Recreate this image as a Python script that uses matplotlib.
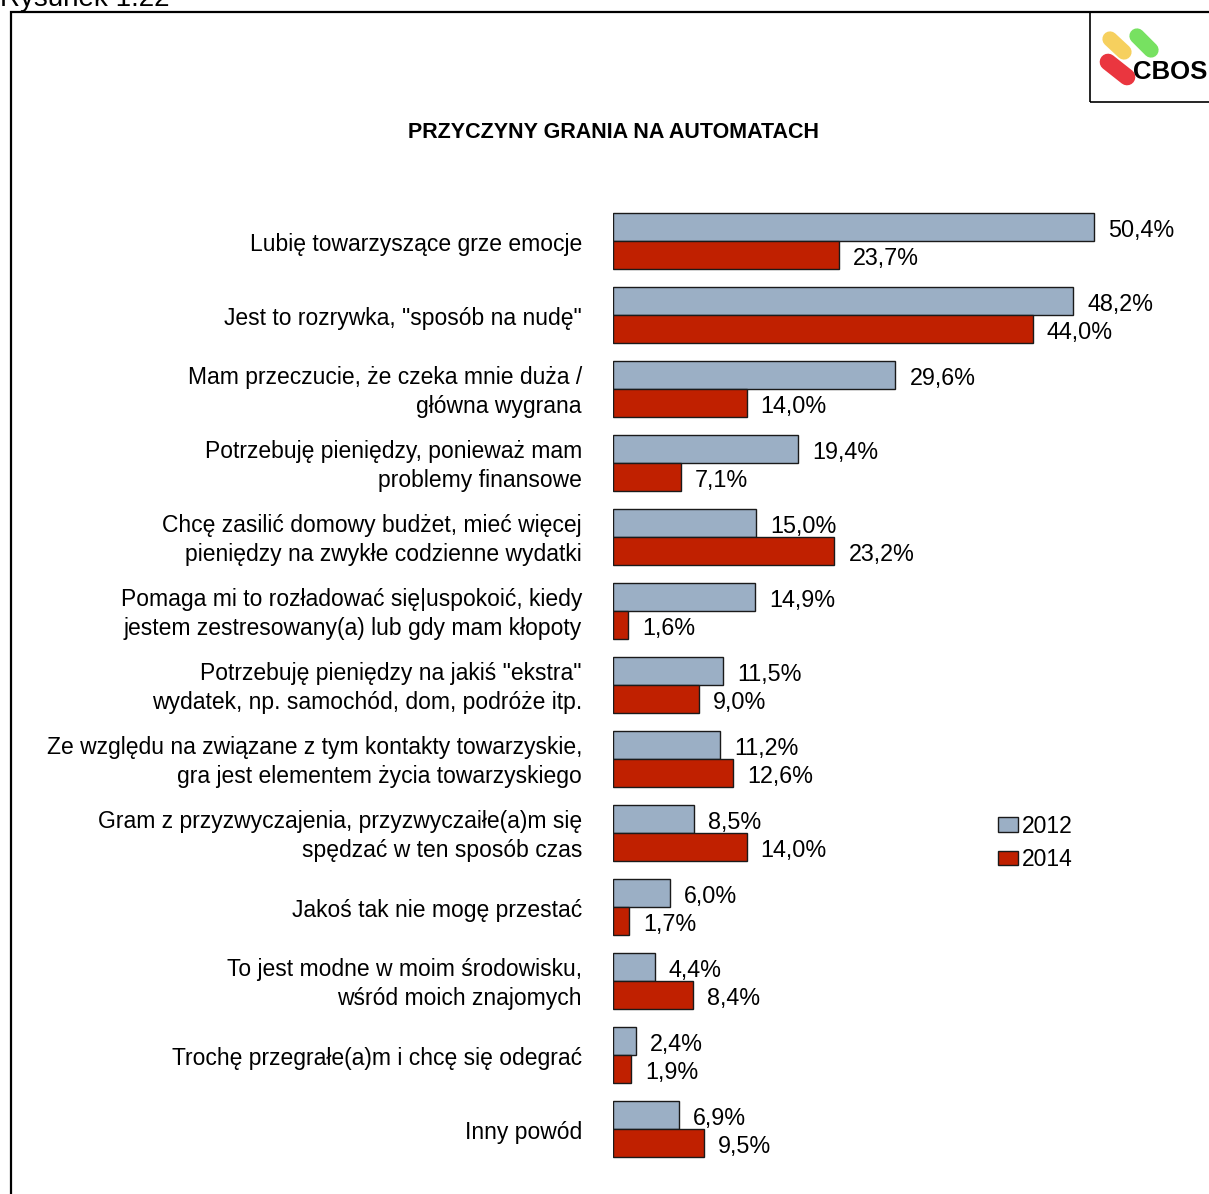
import matplotlib.pyplot as plt
from matplotlib.patches import Rectangle

plt.rcParams['font.family'] = ['Liberation Sans', 'DejaVu Sans']

categories = [
    'Lubię towarzyszące grze emocje',
    'Jest to rozrywka, "sposób na nudę"',
    'Mam przeczucie, że czeka mnie duża /\ngłówna wygrana',
    'Potrzebuję pieniędzy, ponieważ mam\nproblemy finansowe',
    'Chcę zasilić domowy budżet, mieć więcej\npieniędzy na zwykłe codzienne wydatki',
    'Pomaga mi to rozładować się|uspokoić, kiedy\njestem zestresowany(a) lub gdy mam kłopoty',
    'Potrzebuję pieniędzy na jakiś "ekstra"\nwydatek, np. samochód, dom, podróże itp.',
    'Ze względu na związane z tym kontakty towarzyskie,\ngra jest elementem życia towarzyskiego',
    'Gram z przyzwyczajenia, przyzwyczaiłe(a)m się\nspędzać w ten sposób czas',
    'Jakoś tak nie mogę przestać',
    'To jest modne w moim środowisku,\nwśród moich znajomych',
    'Trochę przegrałe(a)m i chcę się odegrać',
    'Inny powód',
]
vals_2012 = [50.4, 48.2, 29.6, 19.4, 15.0, 14.9, 11.5, 11.2, 8.5, 6.0, 4.4, 2.4, 6.9]
vals_2014 = [23.7, 44.0, 14.0, 7.1, 23.2, 1.6, 9.0, 12.6, 14.0, 1.7, 8.4, 1.9, 9.5]
series_names = ['2012', '2014']

W, H = 1209, 1194
fig = plt.figure(figsize=(W / 100, H / 100), dpi=100)

# outer frame and logo box
fig.add_artist(Rectangle((11 / W, -0.01), 1.2, 1 - 12 / H + 0.01, transform=fig.transFigure,
                         fill=False, lw=1.6, ec='black'))
fig.add_artist(Rectangle((1090 / W, 1 - 102 / H), 0.2, 90 / H, transform=fig.transFigure,
                         fill=False, lw=1.2, ec='black'))
fig.text(0, 1 - 6 / H, 'Rysunek 1.22', fontsize=20, va='baseline', ha='left')

# CBOS logo
lax = fig.add_axes([1095 / W, 1 - 100 / H, 114 / W, 86 / H])
lax.set_xlim(0, 114)
lax.set_ylim(86, 0)
lax.axis('off')
lax.plot([15, 29], [25, 38], color='#f5c842', lw=11, solid_capstyle='round', alpha=0.85)
lax.plot([42, 56], [22, 36], color='#5fdc45', lw=11, solid_capstyle='round', alpha=0.85)
lax.plot([13, 32], [48, 63], color='#e8202a', lw=12, solid_capstyle='round', alpha=0.9)
lax.text(38, 58, 'CBOS', fontsize=18.5, fontweight='bold', va='center', ha='left')

fig.text(614 / W, 1 - 133 / H, 'PRZYCZYNY GRANIA NA AUTOMATACH', fontsize=15.5,
         fontweight='bold', ha='center', va='center')

# bar axes
ppu = (1094 - 613) / 50.4
xmax = 60
top_px, row_px, first_c = 176, 74, 241
ax = fig.add_axes([613 / W, 0, xmax * ppu / W, (H - top_px) / H])
ax.set_xlim(0, xmax)
ax.set_ylim((H - first_c) / row_px, (top_px - first_c) / row_px)
ax.axis('off')

h = 28 / row_px
ys = list(range(len(categories)))
b1 = ax.barh([y - h / 2 for y in ys], vals_2012, height=h, color='#9bafc5',
             edgecolor='#1a1a1a', lw=1, label=series_names[0])
b2 = ax.barh([y + h / 2 for y in ys], vals_2014, height=h, color='#c02000',
             edgecolor='#1a1a1a', lw=1, label=series_names[1])

off = 14 / ppu
dy = 3 / row_px
for y, a, b, cat in zip(ys, vals_2012, vals_2014, categories):
    ax.text(a + off, y - h / 2 + dy, f'{a:.1f}%'.replace('.', ','), fontsize=16.8,
            va='center', ha='left')
    ax.text(b + off, y + h / 2 + dy, f'{b:.1f}%'.replace('.', ','), fontsize=16.8,
            va='center', ha='left')
    ax.text(-31 / ppu, y + dy, cat, fontsize=16.5, va='center',
            ha='right', linespacing=1.33, clip_on=False)

fig.legend(handles=[b1, b2], labels=series_names, loc='center left',
           bbox_to_anchor=(998 / W, 1 - 843 / H), frameon=False, fontsize=16.5,
           borderpad=0, borderaxespad=0, handlelength=0.87, handleheight=0.6,
           handletextpad=0.18, labelspacing=0.45)

fig.savefig('out.png', dpi=100)
